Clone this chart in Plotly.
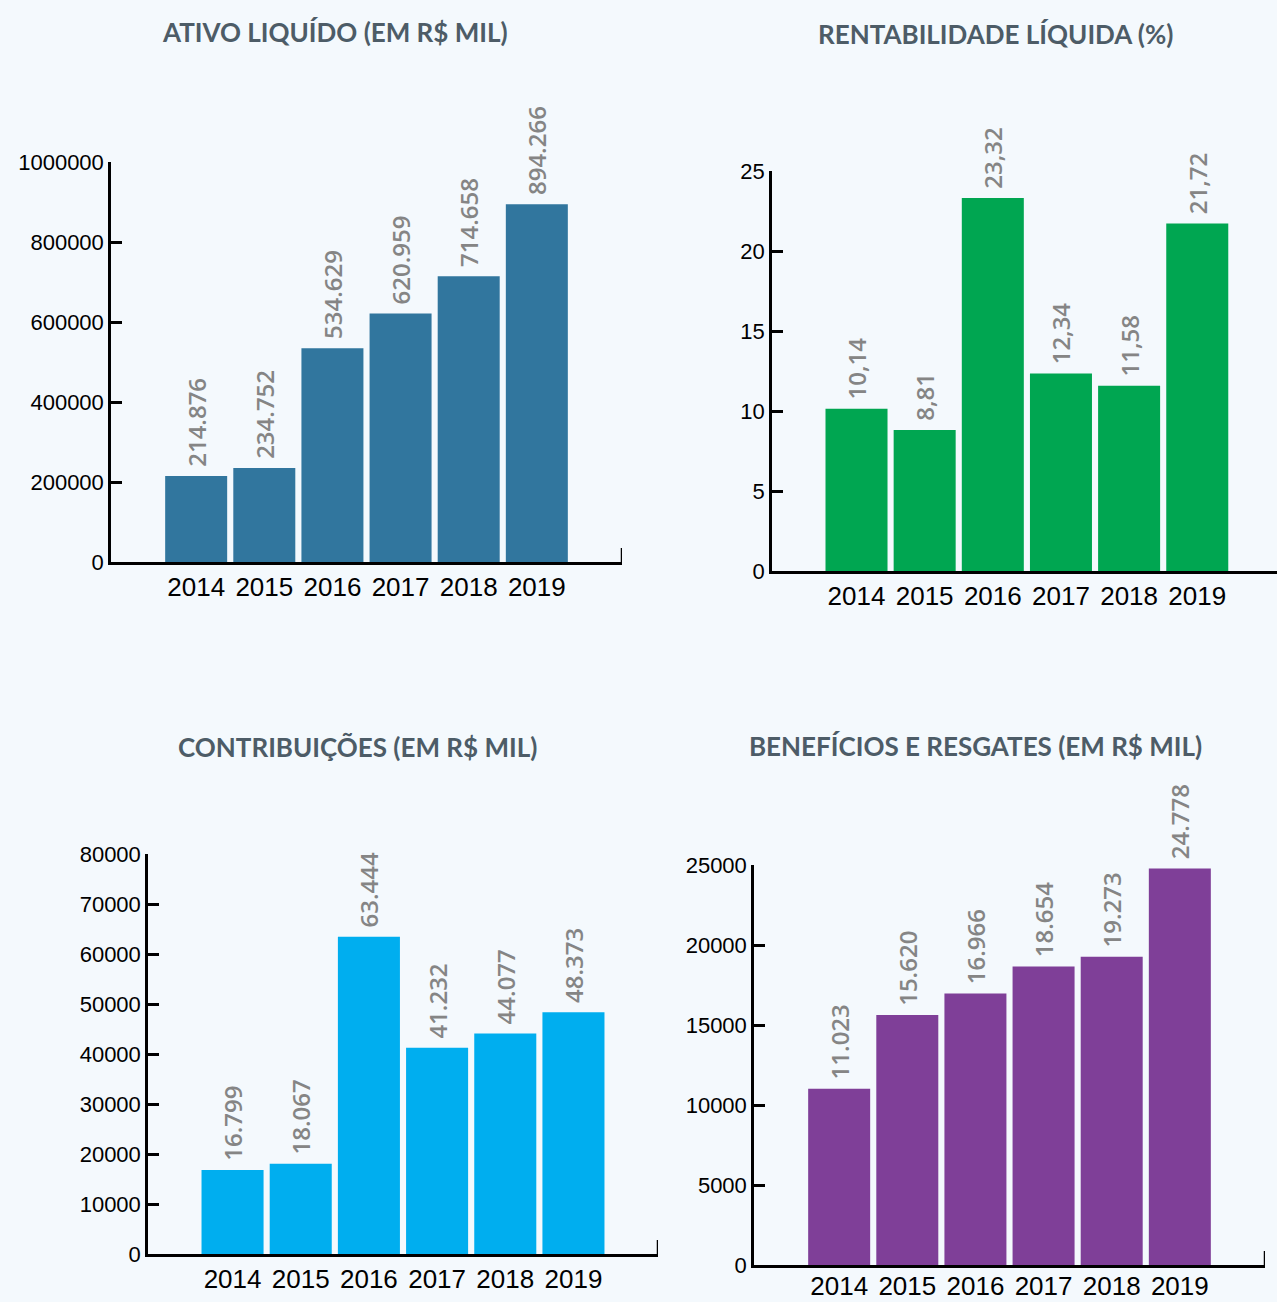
import plotly.graph_objects as go

W, H = 1277, 1302

years = ["2014", "2015", "2016", "2017", "2018", "2019"]

ativo_values = [214876, 234752, 534629, 620959, 714658, 894266]
ativo_labels = ["214.876", "234.752", "534.629", "620.959", "714.658", "894.266"]

rent_values = [10.14, 8.81, 23.32, 12.34, 11.58, 21.72]
rent_labels = ["10,14", "8,81", "23,32", "12,34", "11,58", "21,72"]

contrib_values = [16799, 18067, 63444, 41232, 44077, 48373]
contrib_labels = ["16.799", "18.067", "63.444", "41.232", "44.077", "48.373"]

benef_values = [11023, 15620, 16966, 18654, 19273, 24778]
benef_labels = ["11.023", "15.620", "16.966", "18.654", "19.273", "24.778"]

titles = ["ATIVO LIQUÍDO (EM R$ MIL)", "RENTABILIDADE LÍQUIDA (%)",
          "CONTRIBUIÇÕES (EM R$ MIL)", "BENEFÍCIOS E RESGATES (EM R$ MIL)"]
colors = ["#31769E", "#00A651", "#00AEEF", "#7F3F98"]

panels = [
    dict(vals=ativo_values, labs=ativo_labels, left=111, right=622, top=162, bottom=562,
         xr=[-1.25, 6.25], ymax=1000000, dtick=200000, title_xy=(335, 32),
         endtick=True, standoff=0),
    dict(vals=rent_values, labs=rent_labels, left=772, right=1277, top=171, bottom=571,
         xr=[-1.24, 6.17], ymax=25, dtick=5, title_xy=(995, 34),
         endtick=False, standoff=0),
    dict(vals=contrib_values, labs=contrib_labels, left=148, right=658, top=854, bottom=1254,
         xr=[-1.24, 6.24], ymax=80000, dtick=10000, title_xy=(357, 747),
         endtick=True, standoff=0),
    dict(vals=benef_values, labs=benef_labels, left=754, right=1265, top=865, bottom=1265,
         xr=[-1.25, 6.25], ymax=25000, dtick=5000, title_xy=(975, 746),
         endtick=True, standoff=-4),
]

fig = go.Figure()
shapes = []
annotations = []
for i, p in enumerate(panels):
    n = "" if i == 0 else str(i + 1)
    xa, ya = "x" + n, "y" + n
    fig.add_trace(go.Bar(
        x=list(range(len(years))), y=p["vals"],
        text=["\u00a0" + s for s in p["labs"]],
        texttemplate="%{text}", textposition="outside", textangle=-90,
        textfont=dict(family="Open Sans", size=24, color="#858585", weight=600),
        constraintext="none",
        marker=dict(color=colors[i], line=dict(width=0)),
        cliponaxis=False, xaxis=xa, yaxis=ya, showlegend=False,
        hoverinfo="skip",
    ))
    xdom = [p["left"] / W, p["right"] / W]
    ydom = [1 - p["bottom"] / H, 1 - p["top"] / H]
    fig.layout["xaxis" + n] = dict(
        domain=xdom, range=p["xr"], anchor=ya, showline=True, linecolor="black",
        linewidth=3, ticks="", tickmode="array", tickvals=list(range(len(years))),
        ticktext=years, tickfont=dict(family="Liberation Sans", size=26, color="black"),
        ticklabelstandoff=p["standoff"],
        showgrid=False, zeroline=False, layer="below traces", fixedrange=True,
        automargin=False,
    )
    fig.layout["yaxis" + n] = dict(
        domain=ydom, range=[0, p["ymax"]], anchor=xa, showline=True, linecolor="black",
        linewidth=2.5, ticks="inside", ticklen=11, tickwidth=2.5, tickcolor="black",
        dtick=p["dtick"], tick0=0, tickformat="d",
        tickfont=dict(family="Liberation Sans", size=22, color="black"),
        showgrid=False, zeroline=False, fixedrange=True, automargin=False,
    )
    if p["endtick"]:
        shapes.append(dict(type="line", xref=xa, yref=ya + " domain",
                           x0=p["xr"][1], x1=p["xr"][1], y0=0, y1=0.035,
                           line=dict(color="black", width=2.5)))
    tx, ty = p["title_xy"]
    annotations.append(dict(text="<b>" + titles[i] + "</b>", xref="paper", yref="paper",
                            x=tx / W, y=1 - ty / H, xanchor="center", yanchor="middle",
                            showarrow=False,
                            font=dict(family="Lato", size=26, color="#4D5C67", weight=900)))

fig.update_layout(
    width=W, height=H, margin=dict(l=0, r=0, t=0, b=0, autoexpand=False),
    paper_bgcolor="#F4F9FD", plot_bgcolor="rgba(0,0,0,0)",
    bargap=0.09, shapes=shapes, annotations=annotations,
)

fig.write_html("out.html", config={"displayModeBar": False},
               post_script="document.body.style.margin='0';document.body.style.background='#F4F9FD';")
